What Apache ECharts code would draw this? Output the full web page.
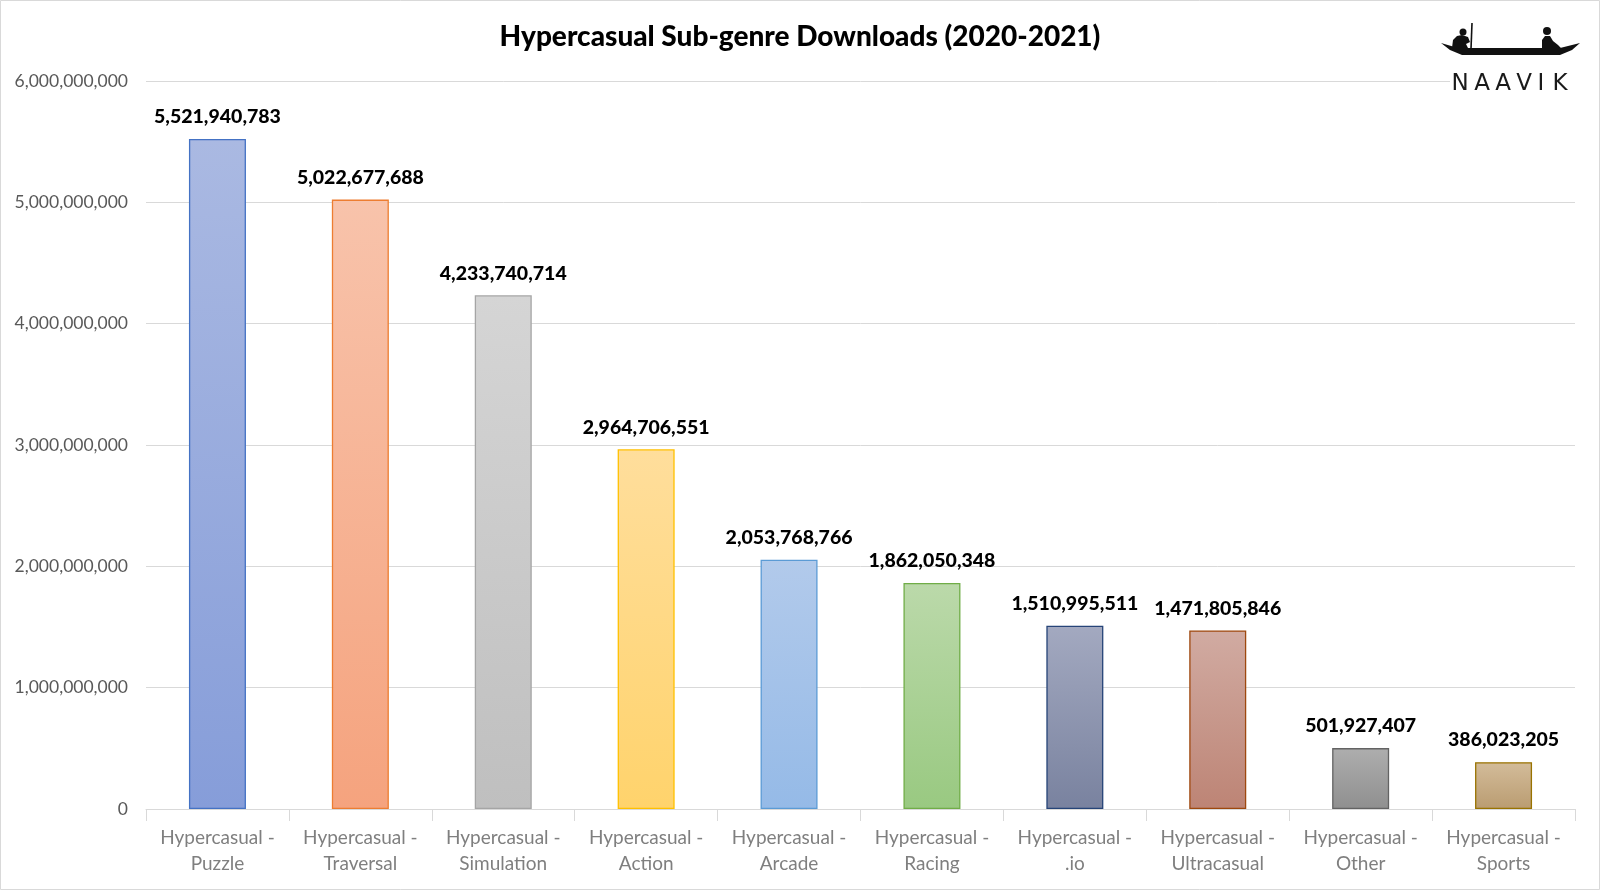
<!DOCTYPE html>
<html><head><meta charset="utf-8">
<script src="https://cdn.jsdelivr.net/npm/echarts@6/dist/echarts.min.js"></script>
<style>html,body{margin:0;padding:0;background:#fff}#c{width:1600px;height:891px}</style>
</head><body><div id="c"></div>
<script>
const categories = ["Hypercasual -\nPuzzle","Hypercasual -\nTraversal","Hypercasual -\nSimulation","Hypercasual -\nAction","Hypercasual -\nArcade","Hypercasual -\nRacing","Hypercasual -\n.io","Hypercasual -\nUltracasual","Hypercasual -\nOther","Hypercasual -\nSports"];
const downloads = [5521940783,5022677688,4233740714,2964706551,2053768766,1862050348,1510995511,1471805846,501927407,386023205];
const yTicks = [0,1000000000,2000000000,3000000000,4000000000,5000000000,6000000000];
const topColors = ["#AAB9E2","#F8C3AB","#D5D5D5","#FFDE9C","#B2CAEB","#BBD9AA","#A3A9C0","#D1ABA2","#AEAEAE","#D3BC9A"];
const bottomColors = ["#869DD9","#F5A37E","#BFBFBF","#FFD36C","#95BAE7","#99C981","#79829F","#BD8475","#8F8F8F","#BA9C71"];
const borderColors = ["#4472C4","#ED7D31","#A5A5A5","#FFC000","#5B9BD5","#70AD47","#264478","#9E480E","#636363","#997300"];
const logoLetters = ["N","A","A","V","I","K"];

const fmt = v => v.toLocaleString('en-US');
const FONT = 'Lato';
const chart = echarts.init(document.getElementById('c'));
const letterX = [1460,1482,1503,1524,1541,1560];
const logoText = logoLetters.map((ch,i)=>({type:'text',z:11,x:letterX[i],y:84,
  style:{text:ch,fontFamily:'DejaVu Sans',fontSize:23,fill:'#1a1a1a',align:'center',verticalAlign:'middle'}}));
chart.setOption({
  backgroundColor:'#fff',
  animation:false,
  title:{text:'Hypercasual Sub-genre Downloads (2020-2021)',left:'center',top:18,
    textStyle:{fontFamily:FONT,fontSize:28,fontWeight:900,color:'#000'}},
  grid:{left:146,right:25,top:81,bottom:82,containLabel:false},
  xAxis:{type:'category',data:categories,
    axisLine:{lineStyle:{color:'#D9D9D9'}},
    axisTick:{show:true,alignWithLabel:false,length:12,lineStyle:{color:'#D9D9D9'}},
    axisLabel:{fontFamily:FONT,fontSize:19,color:'#7F7F7F',lineHeight:26,margin:16,interval:0}},
  yAxis:{type:'value',min:0,max:6000000000,interval:1000000000,
    axisLine:{show:false},axisTick:{show:false},
    splitLine:{lineStyle:{color:'#D9D9D9'}},
    axisLabel:{fontFamily:FONT,fontSize:17.5,color:'#595959',margin:18,formatter:v=>fmt(v)}},
  series:[{type:'bar',barWidth:57,
    data:downloads.map((v,i)=>({value:v,itemStyle:{
      color:new echarts.graphic.LinearGradient(0,0,0,1,[{offset:0,color:topColors[i]},{offset:1,color:bottomColors[i]}]),
      borderColor:borderColors[i],borderWidth:1.3}})),
    label:{show:true,position:'top',distance:12,fontFamily:FONT,fontSize:19.5,fontWeight:900,color:'#000',formatter:p=>fmt(p.value)}
  }],
  graphic:[
    {type:'rect',shape:{x:0.5,y:0.5,width:1599,height:889},style:{fill:'none',stroke:'#D9D9D9',lineWidth:1},silent:true},
    {type:'rect',shape:{x:1450,y:72,width:125,height:22},style:{fill:'#fff'},z:10},
    ...logoText,
    {type:'polygon',z:11,shape:{points:[[1441,43],[1458,48],[1560,48],[1580,43],[1572,50],[1560,55],[1462,55],[1450,50]]},style:{fill:'#111'}},
    {type:'polygon',z:11,shape:{points:[[1452,48],[1453,40],[1457,36],[1462,35],[1468,37],[1470,42],[1466,44],[1468,48]]},style:{fill:'#111'}},
    {type:'circle',z:11,shape:{cx:1463,cy:32,r:3.5},style:{fill:'#111'}},
    {type:'line',z:11,shape:{x1:1472,y1:23,x2:1471,y2:49},style:{stroke:'#111',lineWidth:1.6}},
    {type:'polygon',z:11,shape:{points:[[1542,48],[1542,40],[1545,36],[1550,36],[1553,41],[1558,45],[1561,48]]},style:{fill:'#111'}},
    {type:'circle',z:11,shape:{cx:1547,cy:31,r:4},style:{fill:'#111'}}
  ]
});
</script></body></html>
